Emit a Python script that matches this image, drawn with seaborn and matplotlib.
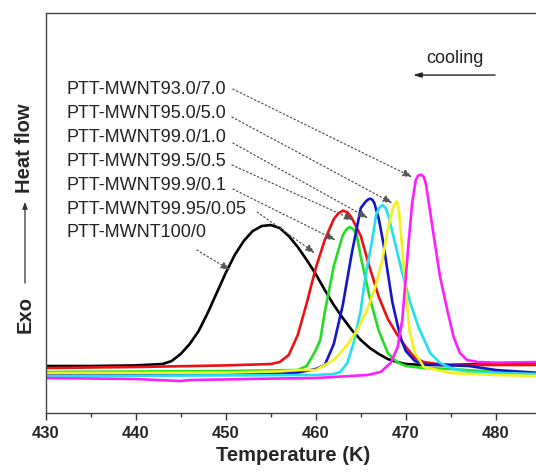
import matplotlib
matplotlib.use('Agg')
import matplotlib.pyplot as plt
import numpy as np
import pandas as pd
import seaborn as sns

# Curves (temperature in K, heat flow in a.u.)
samples = ['PTT-MWNT100/0', 'PTT-MWNT99.95/0.05', 'PTT-MWNT99.9/0.1',
           'PTT-MWNT99.5/0.5', 'PTT-MWNT99.0/1.0', 'PTT-MWNT95.0/5.0',
           'PTT-MWNT93.0/7.0']
colors = ['#000000', '#ee1111', '#22dd22', '#1515cc', '#22e0f0', '#f2f21a', '#ff1eff']

t_100 = [430, 435, 440, 443, 444, 445, 446, 447, 448, 449, 450, 451, 452, 453,
         454, 455, 456, 457, 458, 459, 460, 461, 462, 463, 464, 465, 466, 467,
         468, 469, 470, 472, 475, 478, 485]
h_100 = [11.75, 11.75, 11.9, 12.25, 13.0, 14.75, 17.25, 20.5, 25.0, 30.0, 35.0,
         39.5, 43.0, 45.5, 46.75, 47.0, 46.25, 44.25, 41.5, 38.25, 34.75, 30.75,
         27.0, 23.75, 20.75, 18.25, 16.25, 14.75, 13.5, 12.75, 12.25, 12.0, 12.0,
         12.25, 12.25]

t_9995 = [430, 440, 450, 455, 456, 457, 458, 459, 460, 461, 462, 462.5, 463,
          463.5, 464, 465, 466, 467, 468, 469, 470, 471, 472, 474, 478, 485]
h_9995 = [11.25, 11.5, 11.9, 12.25, 12.75, 14.5, 19.5, 27.5, 36.25, 43.25, 48.5,
          49.9, 50.6, 50.2, 48.75, 44.25, 36.25, 29.0, 23.5, 19.75, 16.5, 13.75,
          12.75, 12.1, 12.0, 12.0]

t_999 = [430, 450, 458, 459, 460, 460.5, 461, 462, 463, 463.4, 463.75, 464.1,
         464.5, 465, 466, 467, 468, 469, 470, 472, 475, 480, 485]
h_999 = [10.25, 10.5, 10.75, 11.75, 15.75, 18.25, 25.25, 36.75, 44.5, 45.9, 46.5,
         46.1, 45.0, 39.0, 28.75, 20.5, 15.0, 12.75, 11.75, 11.25, 11.0, 10.25, 9.75]

t_995 = [430, 450, 458, 460, 461, 462, 463, 464, 465, 465.5, 465.75, 466, 466.25,
         466.5, 467, 467.5, 468, 468.5, 469, 469.5, 470, 471, 472, 474, 477, 480, 485]
h_995 = [9.75, 9.9, 10.1, 11.0, 12.0, 17.25, 27.0, 40.0, 51.25, 52.75, 53.3, 53.6,
         53.4, 52.5, 48.5, 42.5, 35.0, 27.75, 22.75, 18.25, 15.5, 13.0, 12.25, 12.0,
         11.75, 10.75, 10.0]

t_990 = [430, 450, 460, 462, 462.7, 463.5, 464.2, 465, 465.5, 466.2, 466.7, 467.0,
         467.4, 467.75, 468.1, 468.8, 469.6, 470.5, 471.4, 472.2, 472.7, 473.8, 475,
         476.8, 480.5, 485]
h_990 = [9.25, 9.4, 9.5, 9.75, 10.25, 12.5, 17.5, 25.75, 34.0, 42.5, 49.5, 51.2,
         52.0, 51.3, 49.0, 42.5, 35.0, 27.5, 21.5, 17.5, 15.0, 12.5, 11.25, 10.25,
         10.0, 9.75]

t_950 = [430, 450, 456, 458, 460, 462, 463.5, 464.6, 465.7, 466.6, 467.4, 467.9,
         468.5, 468.75, 469, 469.2, 469.4, 469.7, 470.1, 470.4, 471, 472, 475, 480, 485]
h_950 = [10.0, 10.1, 10.4, 10.75, 10.75, 13.25, 17.0, 20.75, 25.75, 31.5, 38.25,
         45.0, 50.75, 52.2, 52.9, 51.2, 46.5, 38.25, 28.25, 20.75, 15.0, 11.5, 10.0,
         9.5, 9.25]

t_930 = [430, 440, 444, 445, 446, 450, 455, 460, 465.7, 467.2, 468.3, 469.1, 469.6,
         469.9, 470.3, 470.7, 471.1, 471.3, 471.5, 471.75, 472, 472.25, 472.5, 473,
         473.8, 474.6, 475.3, 476, 476.8, 478, 480, 485]
h_930 = [8.75, 8.5, 8.1, 8.0, 8.25, 8.4, 8.6, 8.75, 9.5, 10.25, 12.5, 16.5, 23.25,
         31.5, 42.5, 52.5, 58.25, 59.2, 59.5, 59.55, 59.0, 57.0, 53.25, 45.75, 34.0,
         25.75, 19.0, 15.0, 13.25, 12.75, 12.6, 12.75]

x_ticks = [430, 440, 450, 460, 470, 480]

curves = [(t_100, h_100), (t_9995, h_9995), (t_999, h_999), (t_995, h_995),
          (t_990, h_990), (t_950, h_950), (t_930, h_930)]
df = pd.concat([pd.DataFrame({'T': t, 'H': h, 'sample': s})
                for s, (t, h) in zip(samples, curves)], ignore_index=True)

sns.set_theme(style='ticks')
plt.rcParams['font.family'] = ['Liberation Sans', 'DejaVu Sans']

fig = plt.figure(figsize=(5.36, 4.75), dpi=100)
ax = fig.add_axes([0.0849, 0.1305, 0.9244, 0.842])

sns.lineplot(data=df, x='T', y='H', hue='sample', hue_order=samples,
             palette=dict(zip(samples, colors)), estimator=None, sort=False,
             units='sample', linewidth=1.9, legend=False, ax=ax)
for ln in ax.get_lines():
    ln.set_solid_joinstyle('round')

ax.set_xlim(430, 485)
ax.set_ylim(0, 100)
ax.set_yticks([])
ax.set_xticks(x_ticks)
ax.set_xticklabels([str(v) for v in x_ticks], fontsize=12, fontweight='bold')
ax.set_xticks(np.arange(435, 485, 10), minor=True)
ax.tick_params(axis='x', which='major', length=5, width=1, pad=4, color='#333333')
ax.tick_params(axis='x', which='minor', length=3, width=1, color='#333333')
for sp in ['left', 'bottom', 'top']:
    ax.spines[sp].set_color('#444444')
    ax.spines[sp].set_linewidth(1.0)
ax.set_xlabel('Temperature (K)', fontsize=14.5, fontweight='bold', labelpad=4)
ax.set_ylabel('')

# labels with dotted pointers
label_y = [81.0, 75.0, 68.9, 63.0, 57.0, 51.0, 45.1]
label_names = samples[::-1]
starts = [(450.8, 81.0), (450.7, 74.0), (450.8, 67.5), (450.7, 62.0),
          (450.8, 56.0), (453.5, 50.25), (446.8, 40.75)]
ends = [(470.7, 59.0), (468.5, 52.5), (465.8, 48.75), (464.2, 48.25),
        (462.2, 43.25), (459.9, 40.0), (450.5, 35.75)]
for name, ly, st, en in zip(label_names, label_y, starts, ends):
    ax.text(432.3, ly, name, fontsize=13, va='center', ha='left', color='#222222')
    ax.annotate('', xy=en, xytext=st,
                arrowprops=dict(arrowstyle='-|>,head_length=0.45,head_width=0.18',
                                linestyle=(0, (1.2, 2.0)), color='#555555', lw=0.9,
                                shrinkA=0, shrinkB=0))

ax.text(475.5, 88.75, 'cooling', fontsize=13, ha='center', va='center', color='#222222')
ax.annotate('', xy=(470.8, 84.5), xytext=(479.9, 84.5),
            arrowprops=dict(arrowstyle='-|>,head_length=0.4,head_width=0.12',
                            color='#222222', lw=1.0, shrinkA=0, shrinkB=0))

# y-axis label: Exo ---> Heat flow
fig.text(0.0466, 0.688, 'Heat flow', rotation=90, fontsize=14.5, fontweight='bold',
         ha='center', va='center')
fig.text(0.0466, 0.337, 'Exo', rotation=90, fontsize=14.5, fontweight='bold',
         ha='center', va='center')
fig.patches.append(matplotlib.patches.FancyArrowPatch(
    (0.0466, 0.404), (0.0466, 0.575), transform=fig.transFigure,
    arrowstyle='-|>,head_length=0.4,head_width=0.15', mutation_scale=10,
    color='#333333', lw=0.9, shrinkA=0, shrinkB=0))

fig.savefig('out.png', dpi=100)
